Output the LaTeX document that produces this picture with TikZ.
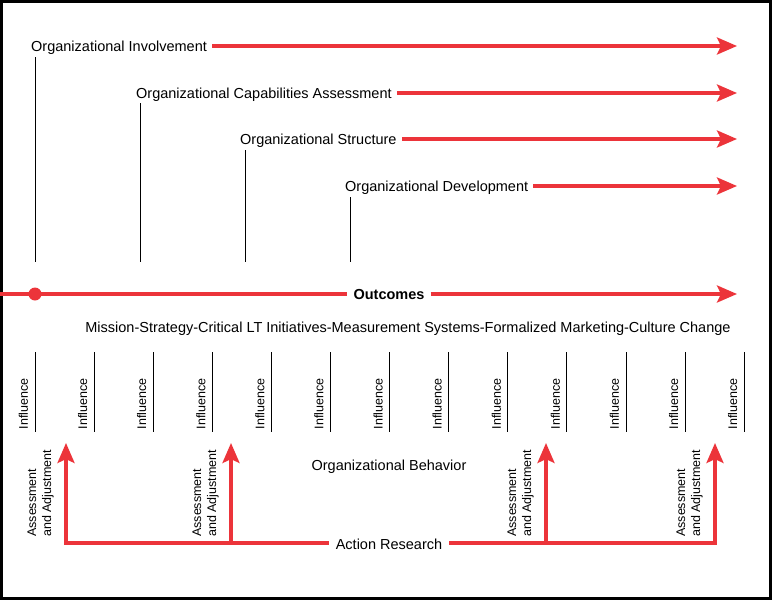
\documentclass[tikz,border=0pt]{standalone}
\usepackage{fontspec}
\setmainfont{Liberation Sans}
\usetikzlibrary{arrows.meta}
\definecolor{arrred}{RGB}{236,52,58}
\tikzset{
  redline/.style={draw=arrred, line width=3.6pt, line join=miter},
  redarrow/.style={redline, -{Stealth[length=20pt,width=17pt,inset=4pt]}},
  blackline/.style={draw=black, line width=0.9pt},
  lbl/.style={inner sep=0pt, font=\fontsize{14.5}{17}\selectfont},
  smalllbl/.style={inner sep=0pt, font=\fontsize{12.5}{15}\selectfont},
}
\begin{document}
\begin{tikzpicture}[x=1pt,y=-1pt]
\useasboundingbox (0,0) rectangle (772,600);
\draw[line width=3pt] (1.5,1.5) rectangle (770.5,598.5);

% top four arrows
\node[lbl, anchor=west] (inv) at (31,47.5) {Organizational Involvement};
\node[lbl, anchor=west] (cap) at (136,94.5) {Organizational Capabilities Assessment};
\node[lbl, anchor=west] (str) at (240,140.5) {Organizational Structure};
\node[lbl, anchor=west] (dev) at (345,187.5) {Organizational Development};
\coordinate (e1) at (737,46);
\coordinate (e2) at (737,93);
\coordinate (e3) at (737,139);
\coordinate (e4) at (737,186);
\draw[redarrow] ([xshift=5pt]inv.east |- e1) -- (e1);
\draw[redarrow] ([xshift=5pt]cap.east |- e2) -- (e2);
\draw[redarrow] ([xshift=5pt]str.east |- e3) -- (e3);
\draw[redarrow] ([xshift=5pt]dev.east |- e4) -- (e4);

% vertical drop lines
\coordinate (v1a) at (35,57);   \coordinate (v1b) at (35,262);
\coordinate (v2a) at (140,103); \coordinate (v2b) at (140,262);
\coordinate (v3a) at (245,150); \coordinate (v3b) at (245,262);
\coordinate (v4a) at (350,197); \coordinate (v4b) at (350,262);
\draw[blackline] (v1a) -- (v1b);
\draw[blackline] (v2a) -- (v2b);
\draw[blackline] (v3a) -- (v3b);
\draw[blackline] (v4a) -- (v4b);

% outcomes line
\node[lbl, font=\fontsize{14.5}{17}\selectfont\bfseries] (out) at (389,295) {Outcomes};
\coordinate (o0) at (0,294);
\coordinate (o1) at (737,294);
\draw[redline] (o0) -- ([xshift=-6pt]out.west |- o0);
\draw[redarrow] ([xshift=6pt]out.east |- o1) -- (o1);
\fill[arrred] (35,294) circle (6.5pt);

% mission text
\node[lbl] (mis) at (408,328.5) {Mission-Strategy-Critical LT Initiatives-Measurement Systems-Formalized Marketing-Culture Change};

% influence lines
\foreach \i in {0,...,12}{
  \pgfmathsetmacro{\xx}{35+59.1*\i}
  \coordinate (ia\i) at (\xx,352);
  \coordinate (ib\i) at (\xx,432);
  \draw[blackline] (ia\i) -- (ib\i);
  \node[smalllbl, rotate=90] (inf\i) at (\xx-11.5,404) {Influence};
}

% organizational behavior
\node[lbl] (ob) at (389,466.5) {Organizational Behavior};

% action research
\node[lbl] (ar) at (389,544) {Action Research};
\coordinate (b1) at (66,543);  \coordinate (t1) at (66,443);
\coordinate (b2) at (231,543); \coordinate (t2) at (231,443);
\coordinate (b3) at (546,543); \coordinate (t3) at (546,443);
\coordinate (b4) at (715,543); \coordinate (t4) at (715,443);
\draw[redarrow] ([xshift=-7pt]ar.west |- b1) -- (b1) -- (t1);
\draw[redarrow] ([xshift=7pt]ar.east |- b4) -- (b4) -- (t4);
\draw[redarrow] (b2) -- (t2);
\draw[redarrow] (b3) -- (t3);

% assessment labels
\foreach \n/\x in {1/66,2/231,3/546,4/715}{
  \node[smalllbl, rotate=90, align=left, anchor=south west] (aa\n) at (\x-12,537) {Assessment\\and Adjustment};
}
\end{tikzpicture}
\end{document}
